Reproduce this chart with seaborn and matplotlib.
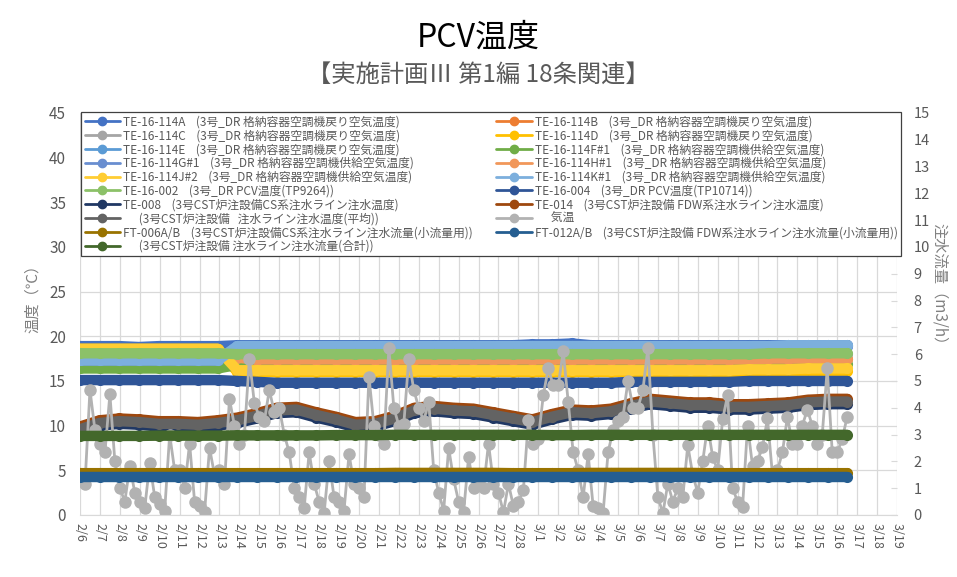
import numpy as np
import pandas as pd
import matplotlib
matplotlib.use("Agg")
import matplotlib.pyplot as plt
import matplotlib.dates as mdates
from matplotlib.lines import Line2D
from matplotlib.ticker import FuncFormatter, MultipleLocator
import seaborn as sns

# ---------------- data ----------------
# daily-ish samples, 2/6 0:00 .. 3/16 12:00
band_start, band_end, band_n = "2023-02-06", "2023-03-16 12:00", 40

codes = ["TE-16-114A", "TE-16-114B", "TE-16-114C", "TE-16-114D", "TE-16-114E",
         "TE-16-114F#1", "TE-16-114G#1", "TE-16-114H#1", "TE-16-114J#2", "TE-16-114K#1",
         "TE-16-002", "TE-16-004", "TE-008", "TE-014", "", "", "FT-006A/B", "FT-012A/B", ""]
descs = ["(3号_DR 格納容器空調機戻り空気温度)"] * 5 + ["(3号_DR 格納容器空調機供給空気温度)"] * 5 + [
    "(3号_DR PCV温度(TP9264))", "(3号_DR PCV温度(TP10714))",
    "(3号CST炉注設備CS系注水ライン注水温度)", "(3号CST炉注設備 FDW系注水ライン注水温度)",
    "(3号CST炉注設備   注水ライン注水温度(平均))", "気温",
    "(3号CST炉注設備CS系注水ライン注水流量(小流量用))", "(3号CST炉注設備 FDW系注水ライン注水流量(小流量用))",
    "(3号CST炉注設備 注水ライン注水流量(合計))"]
colors = ["#4472C4", "#ED7D31", "#A5A5A5", "#FFC000", "#5B9BD5", "#70AD47", "#698ED0",
          "#F1975A", "#FFCD33", "#7CAFDD", "#8CC168", "#2F5597", "#203864", "#9E480E",
          "#636363", "#B2B2B2", "#997300", "#255E91", "#43682B"]

te_114a = [18.9, 18.9, 18.9, 18.8, 18.9, 18.9, 18.9, 18.9, 19.0, 19.0,
           19.0, 19.0, 19.0, 19.0, 19.0, 19.0, 19.0, 19.0, 19.0, 19.0,
           19.0, 19.0, 19.0, 19.1, 19.1, 19.2, 19.0, 19.0, 19.0, 19.0,
           19.0, 19.0, 19.0, 19.0, 19.0, 19.0, 19.0, 19.0, 19.0, 19.0]
te_114b = [18.0, 18.0, 18.0, 18.0, 18.0, 18.0, 18.0, 18.0, 17.6, 17.4,
           17.4, 17.4, 17.4, 17.4, 17.4, 17.4, 17.4, 17.4, 17.4, 17.4,
           17.4, 17.4, 17.4, 17.4, 17.4, 17.4, 17.4, 17.4, 17.4, 17.4,
           17.4, 17.4, 17.4, 17.4, 17.4, 17.4, 17.5, 17.5, 17.5, 17.5]
te_114c = [18.0, 18.0, 18.0, 18.0, 18.0, 18.0, 18.0, 18.0, 18.0, 18.0,
           18.0, 18.0, 18.0, 18.0, 18.0, 18.0, 18.0, 18.0, 18.0, 18.0,
           18.0, 18.0, 18.0, 18.0, 18.0, 18.0, 18.0, 18.0, 18.0, 18.0,
           18.0, 18.0, 18.0, 18.0, 18.0, 18.0, 18.0, 18.0, 18.0, 18.0]
te_114d = [18.6, 18.6, 18.6, 18.6, 18.6, 18.6, 18.6, 18.6, 16.0, 16.0,
           16.0, 16.0, 16.0, 16.0, 16.0, 16.0, 16.0, 16.0, 16.0, 16.0,
           16.0, 16.0, 16.0, 16.0, 16.0, 16.0, 16.0, 16.0, 16.0, 16.0,
           16.0, 16.0, 16.0, 16.0, 16.0, 16.1, 16.1, 16.1, 16.1, 16.1]
te_114e = [17.3, 17.3, 17.3, 17.3, 17.3, 17.3, 17.3, 17.3, 18.9, 18.9,
           18.9, 18.9, 18.9, 18.9, 18.9, 18.9, 18.9, 18.9, 18.9, 18.9,
           18.9, 18.9, 18.9, 18.9, 18.9, 18.9, 18.9, 18.9, 18.9, 18.9,
           18.9, 18.9, 18.9, 18.9, 18.9, 18.9, 18.9, 18.9, 18.9, 18.9]
te_114f1 = [16.4, 16.4, 16.4, 16.4, 16.4, 16.4, 16.4, 16.4, 16.8, 16.8,
            16.8, 16.8, 16.8, 16.8, 16.8, 16.8, 16.8, 16.8, 16.8, 16.8,
            16.8, 16.8, 16.8, 16.8, 16.8, 16.8, 16.8, 16.8, 16.8, 16.8,
            16.8, 16.8, 16.8, 16.8, 16.8, 16.9, 16.9, 16.9, 16.9, 16.9]
te_114g1 = [17.3, 17.3, 17.3, 17.3, 17.3, 17.3, 17.3, 17.3, 18.9, 18.9,
            18.9, 18.9, 18.9, 18.9, 18.9, 18.9, 18.9, 18.9, 18.9, 18.9,
            18.9, 18.9, 18.9, 18.9, 18.9, 18.9, 18.9, 18.9, 18.9, 18.9,
            18.9, 18.9, 18.9, 18.9, 18.9, 18.9, 18.9, 18.9, 18.9, 18.9]
te_114h1 = [18.0, 18.0, 18.0, 18.0, 18.0, 18.0, 18.0, 18.0, 17.6, 17.4,
            17.4, 17.4, 17.4, 17.4, 17.4, 17.4, 17.4, 17.4, 17.4, 17.4,
            17.4, 17.4, 17.4, 17.4, 17.4, 17.4, 17.4, 17.4, 17.4, 17.4,
            17.4, 17.4, 17.4, 17.4, 17.4, 17.5, 17.5, 17.5, 17.5, 17.5]
te_114j2 = [18.6, 18.6, 18.6, 18.6, 18.6, 18.6, 18.6, 18.6, 16.2, 16.2,
            16.2, 16.2, 16.2, 16.2, 16.2, 16.2, 16.2, 16.2, 16.2, 16.2,
            16.2, 16.2, 16.2, 16.2, 16.2, 16.2, 16.2, 16.2, 16.2, 16.2,
            16.2, 16.2, 16.2, 16.2, 16.3, 16.3, 16.3, 16.4, 16.4, 16.4]
te_114k1 = [17.3, 17.3, 17.3, 17.3, 17.3, 17.3, 17.3, 17.3, 18.9, 18.9,
            18.9, 18.9, 18.9, 18.9, 18.9, 18.9, 18.9, 18.9, 18.9, 18.9,
            18.9, 18.9, 18.9, 18.9, 18.9, 18.9, 18.9, 18.9, 18.9, 18.9,
            18.9, 18.9, 18.9, 18.9, 18.9, 18.9, 19.0, 19.0, 19.0, 19.0]
te_002 = [18.1, 18.1, 18.1, 18.1, 18.1, 18.1, 18.1, 18.1, 18.0, 18.0,
          18.0, 18.0, 18.0, 18.0, 18.0, 18.0, 18.0, 18.0, 18.0, 18.0,
          18.0, 18.0, 18.0, 18.0, 18.0, 18.0, 18.0, 18.0, 18.0, 18.0,
          18.0, 18.0, 18.0, 18.0, 18.0, 18.1, 18.1, 18.1, 18.1, 18.1]
te_004 = [15.1, 15.1, 15.1, 15.1, 15.1, 15.1, 15.1, 15.1, 15.0, 14.9,
          14.8, 14.8, 14.8, 14.8, 14.8, 14.8, 14.8, 14.8, 14.8, 14.8,
          14.8, 14.8, 14.8, 14.8, 14.8, 14.8, 14.8, 14.8, 14.9, 14.9,
          14.9, 14.9, 14.9, 14.9, 15.0, 15.0, 15.0, 15.0, 15.0, 15.0]
te_avg = [9.6, 10.3, 10.5, 10.4, 10.2, 10.2, 10.1, 10.3, 10.6, 11.1,
          11.7, 11.8, 11.2, 10.7, 10.1, 10.2, 10.8, 11.7, 11.9, 11.7,
          11.6, 11.2, 10.8, 10.4, 11.0, 11.5, 11.4, 11.6, 12.2, 12.7,
          12.5, 12.3, 12.3, 12.1, 12.1, 12.2, 12.3, 12.6, 12.7, 12.7]
te_008 = [9.3, 10.0, 10.2, 10.1, 9.9, 9.9, 9.8, 10.0, 10.3, 10.8,
          11.4, 11.5, 10.9, 10.4, 9.8, 9.9, 10.5, 11.4, 11.6, 11.4,
          11.3, 10.9, 10.5, 10.1, 10.7, 11.2, 11.1, 11.3, 11.9, 12.4,
          12.2, 12.0, 12.0, 11.8, 11.8, 11.9, 12.0, 12.3, 12.4, 12.4]
te_014 = [9.9, 10.6, 10.8, 10.7, 10.5, 10.5, 10.4, 10.6, 10.9, 11.4,
          12.0, 12.1, 11.5, 11.0, 10.4, 10.5, 11.1, 12.0, 12.2, 12.0,
          11.9, 11.5, 11.1, 10.7, 11.3, 11.8, 11.7, 11.9, 12.5, 13.0,
          12.8, 12.6, 12.6, 12.4, 12.4, 12.5, 12.6, 12.9, 13.0, 13.0]

# right axis flows (m3/h)
ft_006 = [1.56, 1.56, 1.56, 1.56, 1.56, 1.56, 1.56, 1.56, 1.56, 1.56,
          1.56, 1.56, 1.56, 1.56, 1.56, 1.56, 1.57, 1.57, 1.57, 1.57,
          1.57, 1.57, 1.56, 1.56, 1.56, 1.56, 1.57, 1.57, 1.57, 1.57,
          1.57, 1.57, 1.56, 1.56, 1.56, 1.56, 1.56, 1.56, 1.56, 1.56]
ft_012 = [1.42, 1.42, 1.42, 1.42, 1.42, 1.42, 1.42, 1.42, 1.42, 1.42,
          1.42, 1.42, 1.42, 1.42, 1.42, 1.42, 1.42, 1.42, 1.42, 1.42,
          1.42, 1.42, 1.42, 1.42, 1.42, 1.42, 1.42, 1.42, 1.42, 1.42,
          1.42, 1.42, 1.42, 1.42, 1.42, 1.42, 1.42, 1.42, 1.42, 1.42]
ft_total = [2.95, 2.95, 2.95, 2.95, 2.96, 2.96, 2.96, 2.96, 2.97, 2.97,
            2.97, 2.97, 2.97, 2.98, 2.98, 2.98, 2.99, 2.99, 2.99, 2.99,
            2.99, 2.99, 2.99, 2.99, 2.98, 2.98, 2.99, 2.99, 2.99, 2.99,
            2.99, 2.99, 2.99, 2.99, 2.99, 2.99, 2.99, 2.99, 2.99, 2.99]

# 気温, 6-hourly (0h, 6h, 12h, 18h) per day
kion_days = [
    [4.0, 3.5, 14.0, 9.5], [8.0, 7.0, 13.5, 6.0], [3.0, 1.5, 5.5, 2.5], [1.5, 0.8, 5.8, 2.0],
    [1.2, 0.5, 9.0, 5.0], [5.0, 3.0, 8.0, 1.5], [1.0, 0.3, 7.5, 4.5], [5.0, 3.5, 13.0, 10.0],
    [8.0, 9.0, 17.5, 12.5], [11.0, 10.5, 14.0, 11.5], [12.0, 9.0, 7.0, 3.0], [2.0, 0.8, 7.0, 3.5],
    [1.5, 0.2, 6.0, 2.0], [1.5, 0.5, 6.8, 3.5], [3.0, 2.0, 15.5, 10.0], [9.0, 8.0, 18.7, 12.0],
    [10.0, 10.2, 17.5, 14.0], [12.0, 10.5, 12.7, 5.0], [2.5, 0.5, 7.5, 4.0], [1.5, 0.3, 6.5, 3.0],
    [4.0, 3.0, 8.0, 3.5], [2.5, 0.3, 3.5, 1.0], [1.5, 2.8, 10.6, 8.0], [8.5, 13.4, 16.4, 14.5],
    [14.5, 18.3, 12.7, 7.0], [5.0, 2.0, 6.8, 1.0], [0.8, 0.2, 7.0, 9.5], [10.5, 11.0, 15.0, 12.0],
    [12.0, 14.0, 18.7, 9.0], [2.0, 0.2, 3.5, 1.5], [3.0, 2.0, 7.8, 4.5], [2.5, 6.0, 10.0, 6.5],
    [5.0, 10.7, 13.4, 3.0], [1.5, 0.9, 10.0, 5.5], [6.0, 7.6, 10.8, 4.5], [5.0, 7.0, 11.0, 8.0],
    [8.0, 10.0, 11.8, 10.0], [8.0, 9.0, 16.4, 7.0], [7.0, 8.5, 11.0],
]

# ---------------- build frames ----------------
band_dates = pd.date_range(band_start, band_end, periods=band_n)
left_series = [te_114a, te_114b, te_114c, te_114d, te_114e, te_114f1, te_114g1, te_114h1,
               te_114j2, te_114k1, te_002, te_004, te_008, te_014, te_avg]
right_series = [ft_006, ft_012, ft_total]
labels = [f"{c}    {d}" if c else f"      {d}" for c, d in zip(codes, descs)]

left_df = pd.concat([pd.DataFrame({"date": band_dates, "value": v, "series": labels[i]})
                     for i, v in enumerate(left_series)], ignore_index=True)
right_df = pd.concat([pd.DataFrame({"date": band_dates, "value": v, "series": labels[16 + i]})
                      for i, v in enumerate(right_series)], ignore_index=True)
kion_vals = [v for day in kion_days for v in day]
kion_df = pd.DataFrame({"date": pd.date_range(band_start, periods=len(kion_vals), freq="6h"),
                        "value": kion_vals})

# ---------------- style ----------------
sns.set_style("white")
plt.rcParams["font.family"] = ["Noto Sans CJK JP", "DejaVu Sans"]
txt_gray = "#595959"
grid_gray = "#D9D9D9"

fig = plt.figure(figsize=(9.57, 5.77), dpi=100)
ax = fig.add_axes([0.0836, 0.1075, 0.8537, 0.6967])

sns.lineplot(data=left_df, x="date", y="value", hue="series", hue_order=labels[:15],
             palette=colors[:15], marker="o", markersize=8, markeredgewidth=0,
             linewidth=7.5, estimator=None, sort=False, legend=False, ax=ax)
sns.lineplot(data=kion_df, x="date", y="value", color=colors[15], marker="o",
             markersize=9, markeredgewidth=0, linewidth=2, estimator=None,
             sort=False, legend=False, ax=ax)

ax2 = ax.twinx()
sns.lineplot(data=right_df, x="date", y="value", hue="series", hue_order=labels[16:],
             palette=colors[16:], marker="o", markersize=8, markeredgewidth=0,
             linewidth=7.5, estimator=None, sort=False, legend=False, ax=ax2)

# axes
ax.set_xlim(pd.Timestamp("2023-02-06"), pd.Timestamp("2023-03-19"))
ax.set_ylim(0, 45)
ax2.set_ylim(0, 15)
ax.yaxis.set_major_locator(MultipleLocator(5))
ax2.yaxis.set_major_locator(MultipleLocator(1))
ax.xaxis.set_major_locator(mdates.DayLocator())
ax.xaxis.set_major_formatter(FuncFormatter(
    lambda v, p: f"{mdates.num2date(v).month}/{mdates.num2date(v).day}"))
ax.grid(True, color=grid_gray, linewidth=0.9)
ax.set_axisbelow(True)
ax.set_xlabel("")
ax.set_ylabel("")
ax2.set_ylabel("")

for s in ["left", "right", "top"]:
    ax.spines[s].set_visible(False)
for s in ax2.spines.values():
    s.set_visible(False)
ax.spines["bottom"].set_color(grid_gray)

ax.tick_params(axis="y", length=0, labelsize=11, labelcolor=txt_gray, pad=10)
ax.tick_params(axis="x", length=0, labelsize=9, labelcolor=txt_gray, labelrotation=-90, pad=6)
ax2.tick_params(axis="y", direction="in", length=4, color=grid_gray, labelsize=10.5,
                labelcolor=txt_gray, pad=12)

# texts
fig.text(0.5, 0.934, "PCV温度", ha="center", va="center", fontsize=23, color="black")
fig.text(0.5, 0.870, "【実施計画Ⅲ 第1編 18条関連】", ha="center", va="center",
         fontsize=17.5, color=txt_gray)
fig.text(0.034, 0.489, "温度（℃）", rotation=90, ha="center", va="center",
         fontsize=11, color="#808080")
fig.text(0.982, 0.501, "注水流量（m3/h）", rotation=270, ha="center", va="center",
         fontsize=11, color="#808080")

# legend (row-major like the original -> reorder for column filling)
handles = [Line2D([], [], color=c, lw=2, marker="o", markersize=6) for c in colors]
order = list(range(0, 19, 2)) + list(range(1, 19, 2))
leg = fig.legend([handles[i] for i in order], [labels[i] for i in order],
                 loc="upper left", bbox_to_anchor=(0.0846, 0.806),
                 ncol=2, fontsize=8.5, frameon=True, fancybox=False,
                 edgecolor="#404040", framealpha=1, handlelength=3.0,
                 labelspacing=0.07, borderpad=0.3, borderaxespad=0,
                 handletextpad=0.25, columnspacing=2.0)
leg.get_frame().set_linewidth(0.9)
for t in leg.get_texts():
    t.set_color(txt_gray)

fig.savefig("out.png", dpi=100)
